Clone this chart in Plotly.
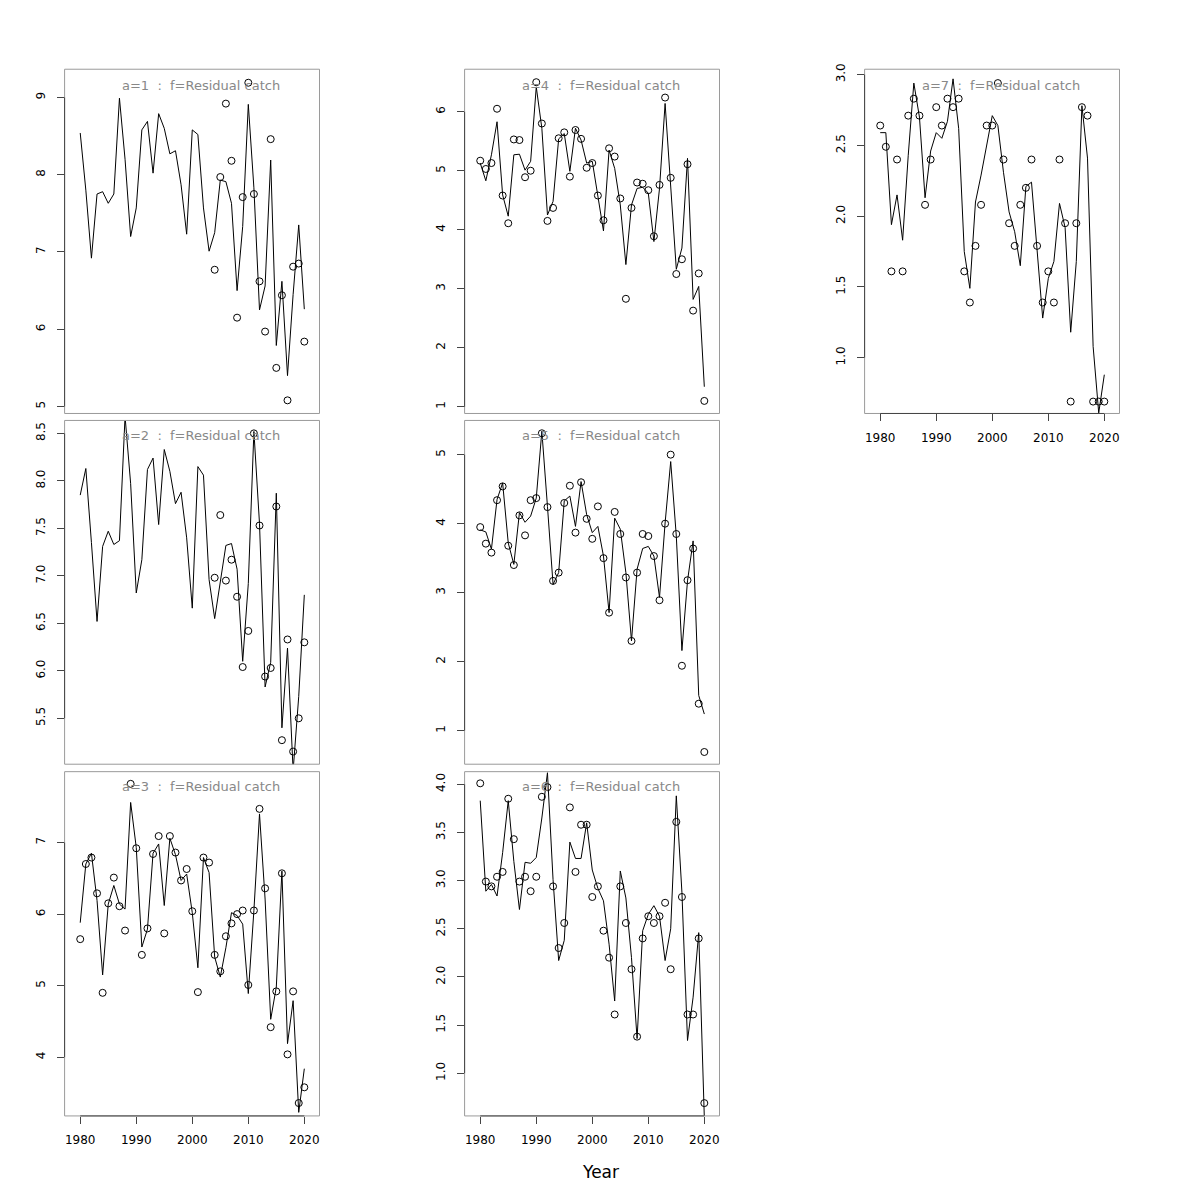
import plotly.graph_objects as go

years = list(range(1980, 2021))
years_late = list(range(2004, 2021))

# a=1
fit1 = [8.54, 7.80, 6.92, 7.75, 7.78, 7.63, 7.75, 8.99, 8.20, 7.20, 7.57, 8.58, 8.69, 8.02, 8.79, 8.60,
        8.27, 8.31, 7.87, 7.23, 8.58, 8.52, 7.57, 7.01, 7.25, 7.93, 7.91, 7.63, 6.50, 7.33, 8.91, 7.83,
        6.25, 6.56, 8.19, 5.79, 6.62, 5.40, 6.45, 7.35, 6.26]
obs1 = [6.77, 7.97, 8.92, 8.18, 6.15, 7.71, 9.19, 7.75, 6.62, 5.97, 8.46, 5.50, 6.44, 5.08, 6.81, 6.85, 5.84]
# a=2
fit2 = [7.85, 8.13, 7.35, 6.52, 7.31, 7.47, 7.33, 7.37, 8.68, 7.97, 6.82, 7.17, 8.12, 8.24, 7.54, 8.33,
        8.10, 7.76, 7.88, 7.40, 6.66, 8.15, 8.06, 6.96, 6.55, 6.96, 7.32, 7.34, 7.07, 6.10, 6.92, 8.52,
        7.55, 5.83, 6.09, 7.87, 5.40, 6.24, 4.95, 5.73, 6.80]
obs2 = [6.98, 7.64, 6.95, 7.17, 6.78, 6.04, 6.42, 8.50, 7.53, 5.94, 6.03, 7.73, 5.27, 6.33, 5.15, 5.50, 6.30]
# a=3
fit3 = [5.88, 6.70, 6.85, 6.19, 5.15, 6.14, 6.40, 6.14, 6.07, 7.56, 6.93, 5.54, 5.79, 6.85, 6.98, 6.12,
        7.06, 6.83, 6.47, 6.56, 6.02, 5.25, 6.79, 6.58, 5.40, 5.12, 5.53, 6.02, 5.98, 5.86, 4.89, 6.05,
        7.40, 6.21, 4.53, 4.98, 6.60, 4.19, 4.79, 3.23, 3.84]
obs3 = [5.65, 6.70, 6.79, 6.29, 4.90, 6.15, 6.51, 6.11, 5.77, 7.82, 6.92, 5.43, 5.80, 6.84, 7.09, 5.73,
        7.09, 6.86, 6.47, 6.63, 6.04, 4.91, 6.79, 6.72, 5.43, 5.20, 5.69, 5.87, 6.00, 6.05, 5.01, 6.05,
        7.47, 6.36, 4.42, 4.92, 6.57, 4.04, 4.92, 3.36, 3.58]
# a=4
fit4 = [5.13, 4.83, 5.27, 5.83, 4.59, 4.23, 5.27, 5.28, 5.01, 5.16, 6.42, 5.72, 4.25, 4.48, 5.54, 5.63,
        4.99, 5.72, 5.52, 5.13, 5.16, 4.59, 3.98, 5.35, 5.04, 4.42, 3.41, 4.42, 4.70, 4.72, 4.62, 3.80,
        4.70, 6.14, 4.82, 3.33, 3.69, 5.21, 2.82, 3.04, 1.34]
obs4 = [5.17, 5.03, 5.13, 6.05, 4.58, 4.11, 5.53, 5.52, 4.89, 5.00, 6.50, 5.80, 4.15, 4.37, 5.55, 5.65,
        4.90, 5.69, 5.54, 5.05, 5.13, 4.58, 4.16, 5.38, 5.24, 4.53, 2.83, 4.37, 4.80, 4.78, 4.67, 3.89,
        4.76, 6.24, 4.88, 3.25, 3.50, 5.11, 2.63, 3.26, 1.10]
# a=5
fit5 = [3.91, 3.88, 3.63, 4.35, 4.59, 3.72, 3.41, 4.16, 4.02, 4.11, 4.37, 5.34, 4.25, 3.12, 3.29, 4.33,
        4.40, 3.96, 4.61, 4.13, 3.87, 3.96, 3.53, 2.71, 4.08, 3.92, 3.29, 2.30, 3.34, 3.64, 3.67, 3.53,
        2.93, 4.01, 4.90, 3.82, 2.16, 3.17, 3.75, 1.51, 1.24]
obs5 = [3.95, 3.71, 3.58, 4.34, 4.54, 3.68, 3.40, 4.12, 3.83, 4.34, 4.37, 5.31, 4.24, 3.17, 3.29, 4.30,
        4.55, 3.87, 4.60, 4.07, 3.78, 4.25, 3.50, 2.71, 4.17, 3.85, 3.22, 2.30, 3.29, 3.85, 3.82, 3.53,
        2.89, 4.00, 5.00, 3.85, 1.94, 3.18, 3.64, 1.39, 0.69]
# a=6
fit6 = [3.83, 2.89, 2.96, 2.84, 3.29, 3.83, 3.20, 2.70, 3.19, 3.18, 3.24, 3.65, 4.12, 3.01, 2.17, 2.38,
        3.40, 3.23, 3.23, 3.60, 3.11, 2.92, 2.79, 2.34, 1.75, 3.10, 2.82, 2.20, 1.36, 2.48, 2.65, 2.74,
        2.63, 2.17, 2.50, 3.88, 2.88, 1.34, 1.79, 2.46, 0.54]
obs6 = [4.01, 2.99, 2.94, 3.04, 3.09, 3.85, 3.43, 2.99, 3.04, 2.89, 3.04, 3.87, 3.97, 2.94, 2.30, 2.56,
        3.76, 3.09, 3.58, 3.58, 2.83, 2.94, 2.48, 2.20, 1.61, 2.94, 2.56, 2.08, 1.38, 2.40, 2.63, 2.56,
        2.63, 2.77, 2.08, 3.61, 2.83, 1.61, 1.61, 2.40, 0.69]
# a=7
fit7 = [2.59, 2.59, 1.94, 2.15, 1.83, 2.43, 2.94, 2.70, 2.13, 2.46, 2.59, 2.55, 2.67, 2.97, 2.62, 1.75,
        1.49, 2.10, 2.29, 2.49, 2.71, 2.64, 2.31, 2.03, 1.89, 1.65, 2.21, 2.24, 1.75, 1.28, 1.56, 1.68,
        2.09, 1.92, 1.18, 1.68, 2.78, 2.41, 1.08, 0.61, 0.88]
obs7 = [2.64, 2.49, 1.61, 2.40, 1.61, 2.71, 2.83, 2.71, 2.08, 2.40, 2.77, 2.64, 2.83, 2.77, 2.83, 1.61,
        1.39, 1.79, 2.08, 2.64, 2.64, 2.94, 2.40, 1.95, 1.79, 2.08, 2.20, 2.40, 1.79, 1.39, 1.61, 1.39,
        2.40, 1.95, 0.69, 1.95, 2.77, 2.71, 0.69, 0.69, 0.69]

titles = ["a=1  :  f=Residual catch", "a=2  :  f=Residual catch", "a=3  :  f=Residual catch",
          "a=4  :  f=Residual catch", "a=5  :  f=Residual catch", "a=6  :  f=Residual catch",
          "a=7  :  f=Residual catch"]
x_ticks = [1980, 1990, 2000, 2010, 2020]
y_ticks = [[5, 6, 7, 8, 9], [5.5, 6.0, 6.5, 7.0, 7.5, 8.0, 8.5], [4, 5, 6, 7],
           [1, 2, 3, 4, 5, 6], [1, 2, 3, 4, 5], [1.0, 1.5, 2.0, 2.5, 3.0, 3.5, 4.0],
           [1.0, 1.5, 2.0, 2.5, 3.0]]
y_fmt = ["d", ".1f", "d", "d", "d", ".1f", ".1f"]

panels = [
    (years, fit1, years_late, obs1), (years, fit2, years_late, obs2), (years, fit3, years, obs3),
    (years, fit4, years, obs4), (years, fit5, years, obs5), (years, fit6, years, obs6),
    (years, fit7, years, obs7),
]

# layout geometry (page pixels; the page body adds an 8px margin before the figure)
OFF = 8
W = H = 1200 - OFF
col_px = [(64.6, 319.5), (464.6, 719.5), (864.6, 1119.5)]
row_px = [(63.5, 409.5), (416.5, 762.0), (769.5, 1115.5)]
pos = [(0, 0), (1, 0), (2, 0), (0, 1), (1, 1), (2, 1), (0, 2)]  # (row, col)
y_ranges = [(4.91, 9.365), (5.017, 8.636), (3.18, 7.99), (0.887, 6.72), (0.513, 5.496),
            (0.557, 4.131), (0.606, 3.038)]
x_range = (1977.21, 2022.71)
show_x = [False, False, True, False, False, True, True]
title_dy = [16, 15, 15]


def px_x(p):
    return (p - OFF) / W


def px_y(p):
    return 1 - (p - OFF) / H


fig = go.Figure()
shapes = []
annotations = []
layout = {}
for i, (xf, yf, xo, yo) in enumerate(panels):
    k = "" if i == 0 else str(i + 1)
    r, c = pos[i]
    x0p, x1p = col_px[c]
    y0p, y1p = row_px[r]
    fig.add_trace(go.Scatter(x=xf, y=yf, mode="lines", line=dict(color="black", width=1),
                             xaxis="x" + k, yaxis="y" + k, showlegend=False, hoverinfo="skip"))
    fig.add_trace(go.Scatter(x=xo, y=yo, mode="markers",
                             marker=dict(symbol="circle-open", size=7, color="black",
                                         line=dict(width=1, color="black")),
                             xaxis="x" + k, yaxis="y" + k, showlegend=False))
    layout["xaxis" + k] = dict(
        domain=[px_x(x0p), px_x(x1p)], range=list(x_range), anchor="y" + k,
        showgrid=False, zeroline=False, showline=False,
        tickmode="array", tickvals=x_ticks if show_x[i] else [],
        ticks="outside" if show_x[i] else "", ticklen=7, tickwidth=1, tickcolor="#444444",
        showticklabels=show_x[i], tickfont=dict(family="DejaVu Sans", size=12, color="black"),
        ticklabelstandoff=6,
    )
    layout["yaxis" + k] = dict(
        domain=[px_y(y1p), px_y(y0p)], range=list(y_ranges[i]), anchor="x" + k,
        showgrid=False, zeroline=False, showline=False,
        tickmode="array", tickvals=y_ticks[i], tickformat=y_fmt[i],
        ticks="outside", ticklen=7, tickwidth=1, tickcolor="#444444",
        tickangle=-90, tickfont=dict(family="DejaVu Sans", size=12, color="black"),
        ticklabelstandoff=7,
    )
    # box
    shapes.append(dict(type="rect", xref="x" + k + " domain", yref="y" + k + " domain",
                       x0=0, x1=1, y0=0, y1=1, line=dict(color="#9a9a9a", width=1), layer="above"))
    # y axis line between first and last tick
    shapes.append(dict(type="line", xref="x" + k + " domain", yref="y" + k,
                       x0=0, x1=0, y0=y_ticks[i][0], y1=y_ticks[i][-1],
                       line=dict(color="#444444", width=1), layer="above"))
    if show_x[i]:
        shapes.append(dict(type="line", xref="x" + k, yref="y" + k + " domain",
                           x0=x_ticks[0], x1=x_ticks[-1], y0=0, y1=0,
                           line=dict(color="#444444", width=1), layer="above"))
    annotations.append(dict(text=titles[i], xref="paper", yref="paper",
                            x=px_x(x0p + 136), y=px_y(y0p + title_dy[r]),
                            xanchor="center", yanchor="middle", showarrow=False,
                            font=dict(family="DejaVu Sans", size=13, color="#888888")))

annotations.append(dict(text="Year", xref="paper", yref="paper", x=px_x(600), y=px_y(1172),
                        xanchor="center", yanchor="middle", showarrow=False,
                        font=dict(family="DejaVu Sans", size=17, color="black")))

fig.update_layout(width=W, height=H, margin=dict(l=0, r=0, t=0, b=0),
                  paper_bgcolor="white", plot_bgcolor="white",
                  shapes=shapes, annotations=annotations, **layout)
fig.write_html("out.html")
